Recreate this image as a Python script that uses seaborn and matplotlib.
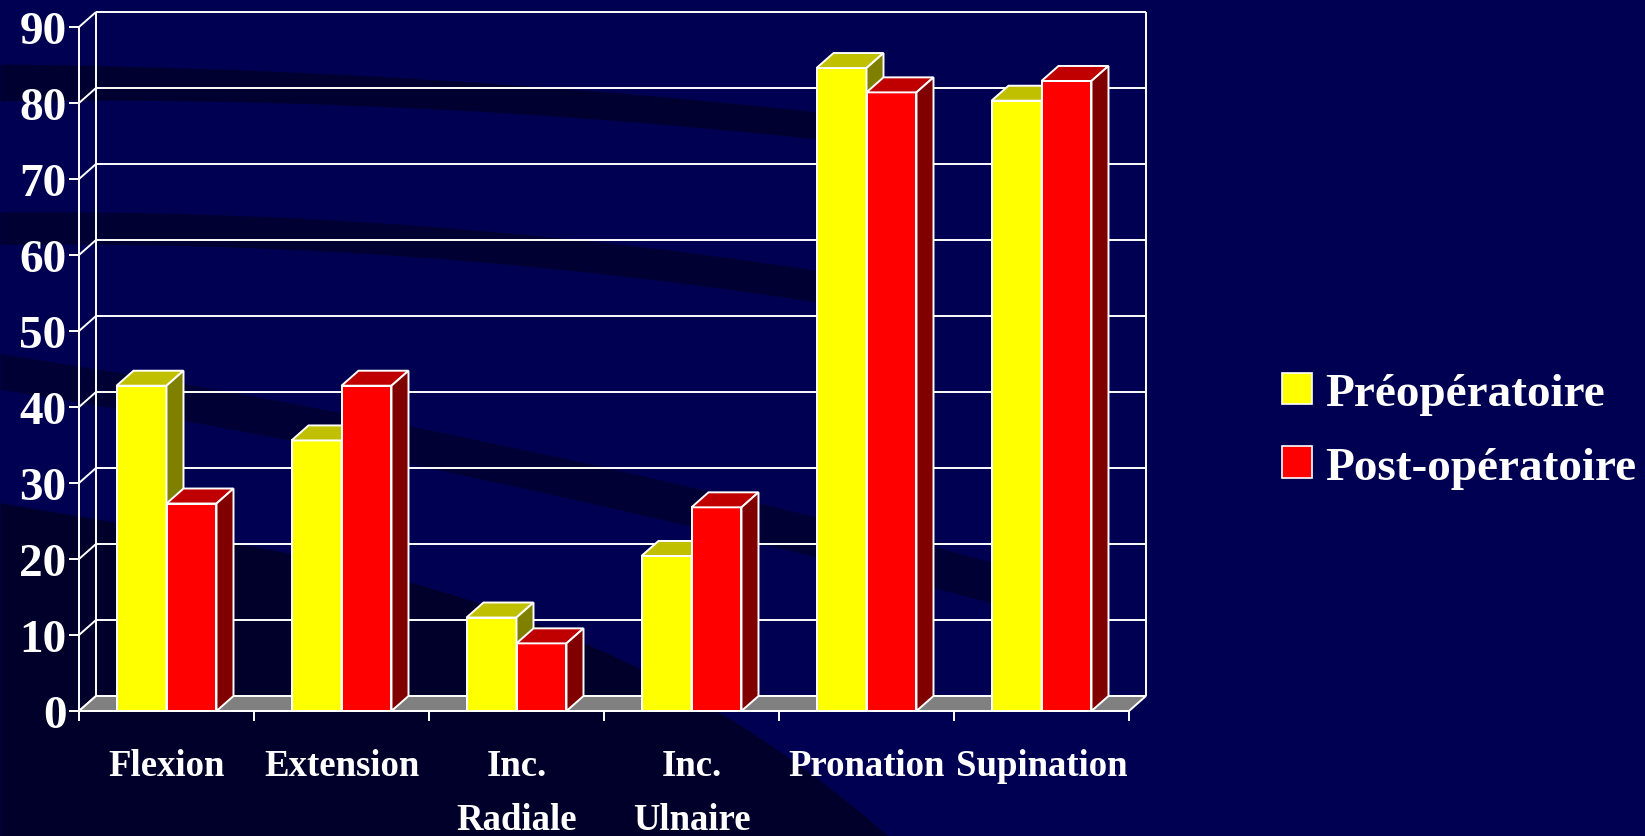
import numpy as np
import pandas as pd
import matplotlib
matplotlib.use("Agg")
import matplotlib.pyplot as plt
import seaborn as sns
from matplotlib.patches import Polygon, Patch

# ---- data ----
categories = ["Flexion", "Extension", "Inc.\nRadiale", "Inc.\nUlnaire", "Pronation", "Supination"]
series_names = ["Préopératoire", "Post-opératoire"]
pre_values = [42.8, 35.6, 12.3, 20.4, 84.6, 80.3]
post_values = [27.3, 42.8, 8.9, 26.8, 81.4, 82.9]
y_ticks = [0, 10, 20, 30, 40, 50, 60, 70, 80, 90]

front_colors = {"Préopératoire": "#FFFF00", "Post-opératoire": "#FF0000"}
top_colors = ["#C0C000", "#C00000"]
side_colors = ["#808000", "#800000"]

df = pd.DataFrame({
    "cat": categories * 2,
    "val": pre_values + post_values,
    "period": [series_names[0]] * len(categories) + [series_names[1]] * len(categories),
})

W, H = 1645, 837
fig = plt.figure(figsize=(W / 100, H / 100), dpi=100)
fig.patch.set_facecolor("#000052")

# ---- background swooshes (decoration) ----
bg = fig.add_axes([0, 0, 1, 1], zorder=-10)
bg.set_xlim(0, W)
bg.set_ylim(H, 0)
bg.axis("off")
s = W / 1568.0

def curve(xp, yp, xs, deg=2):
    c = np.polyfit(np.array(xp) * s, np.array(yp) * s, deg)
    return np.polyval(c, xs)

xd = np.linspace(0, 860 * s, 300)
dark_top = curve([0, 219, 438, 657, 839], [480, 518, 569, 664, 791], xd, deg=3)
bg.fill_between(xd, dark_top, H, color="#00002a", lw=0)
xa = np.linspace(0, 820 * s, 200)
bg.fill_between(xa, curve([0, 400, 820], [62, 76, 112], xa), curve([0, 400, 820], [97, 104, 138], xa), color="#000030", lw=0)
xb = np.linspace(0, 820 * s, 200)
bg.fill_between(xb, curve([0, 400, 800], [203, 216, 262], xb), curve([0, 400, 800], [234, 246, 292], xb), color="#000032", lw=0)
xc = np.linspace(0, 960 * s, 200)
bg.fill_between(xc, curve([0, 365, 730], [338, 402, 482], xc), curve([0, 365, 730], [372, 438, 520], xc), color="#000034", lw=0)

# ---- main axes ----
x_left, x_right, y_bot, y_top = 79, 1129, 712, 28
ax = fig.add_axes([x_left / W, (H - y_bot) / H, (x_right - x_left) / W, (y_bot - y_top) / H])
ax.set_facecolor("none")

sns.barplot(data=df, x="cat", y="val", hue="period", hue_order=series_names,
            palette=front_colors, width=0.5714, edgecolor="white", linewidth=1.4,
            saturation=1, legend=False, ax=ax)

n = len(categories)
ax.set_xlim(-0.5, n - 0.5)
ax.set_ylim(0, 90)
for sp in ax.spines.values():
    sp.set_visible(False)
ax.set_xlabel("")
ax.set_ylabel("")

# depth offsets in data units
DXp, DYp = 17, 15
dxd = DXp / ((x_right - x_left) / n)
dyd = DYp / ((y_bot - y_top) / 90.0)

wall = dict(color="white", lw=1.4, clip_on=False, solid_capstyle="butt")
for v in y_ticks:
    ax.plot([-0.5 + dxd, n - 0.5 + dxd], [v + dyd, v + dyd], zorder=1, **wall)
    ax.plot([-0.5, -0.5 + dxd], [v, v + dyd], zorder=1, **wall)
ax.plot([-0.5 + dxd, -0.5 + dxd], [dyd, 90 + dyd], zorder=1, **wall)
ax.plot([n - 0.5 + dxd, n - 0.5 + dxd], [dyd, 90 + dyd], zorder=1, **wall)
ax.plot([-0.5, -0.5], [0, 90], zorder=6, **wall)

floor = Polygon([(-0.5, 0), (n - 0.5, 0), (n - 0.5 + dxd, dyd), (-0.5 + dxd, dyd)],
                closed=True, facecolor="#808080", edgecolor="white", lw=1.4, zorder=2, clip_on=False)
ax.add_patch(floor)

for k, cont in enumerate(ax.containers):
    for bar in cont:
        x0, w, h = bar.get_x(), bar.get_width(), bar.get_height()
        bar.set_zorder(3 + k)
        bar.set_clip_on(False)
        top = Polygon([(x0, h), (x0 + w, h), (x0 + w + dxd, h + dyd), (x0 + dxd, h + dyd)],
                      closed=True, facecolor=top_colors[k], edgecolor="white", lw=1.4,
                      zorder=3.5 + k, clip_on=False)
        side = Polygon([(x0 + w, 0), (x0 + w + dxd, dyd), (x0 + w + dxd, h + dyd), (x0 + w, h)],
                       closed=True, facecolor=side_colors[k], edgecolor="white", lw=1.4,
                       zorder=3.5 + k, clip_on=False)
        ax.add_patch(top)
        ax.add_patch(side)

ax.plot([-0.5, n - 0.5], [0, 0], zorder=6, **wall)

font = ["Liberation Serif", "DejaVu Serif"]
ax.set_yticks(y_ticks)
ax.set_yticklabels([str(v) for v in y_ticks], family=font, fontweight="bold", fontsize=34, color="white")
ax.tick_params(axis="y", colors="white", length=7, width=1.4, pad=2)

ax.set_xticks(range(n))
ax.set_xticklabels(categories, family=font, fontweight="bold", fontsize=26.5, color="white",
                   linespacing=1.67, va="top")
ax.set_xticks(np.arange(-0.5, n, 1.0), minor=True)
ax.tick_params(axis="x", which="major", length=0, pad=27)
ax.tick_params(axis="x", which="minor", colors="white", length=7, width=1.4)

handles = [Patch(facecolor=front_colors[nm], edgecolor="white", lw=1.2) for nm in series_names]
leg = fig.legend(handles, series_names, loc="upper left", bbox_to_anchor=(1282 / W, 1 - 374 / H),
                 frameon=False, borderpad=0, borderaxespad=0, handlelength=0.64, handleheight=0.64,
                 handletextpad=0.28, labelspacing=0.66,
                 prop=dict(family=font, weight="bold", size=34))
for t in leg.get_texts():
    t.set_color("white")

fig.savefig("out.png", dpi=100, facecolor=fig.get_facecolor())
